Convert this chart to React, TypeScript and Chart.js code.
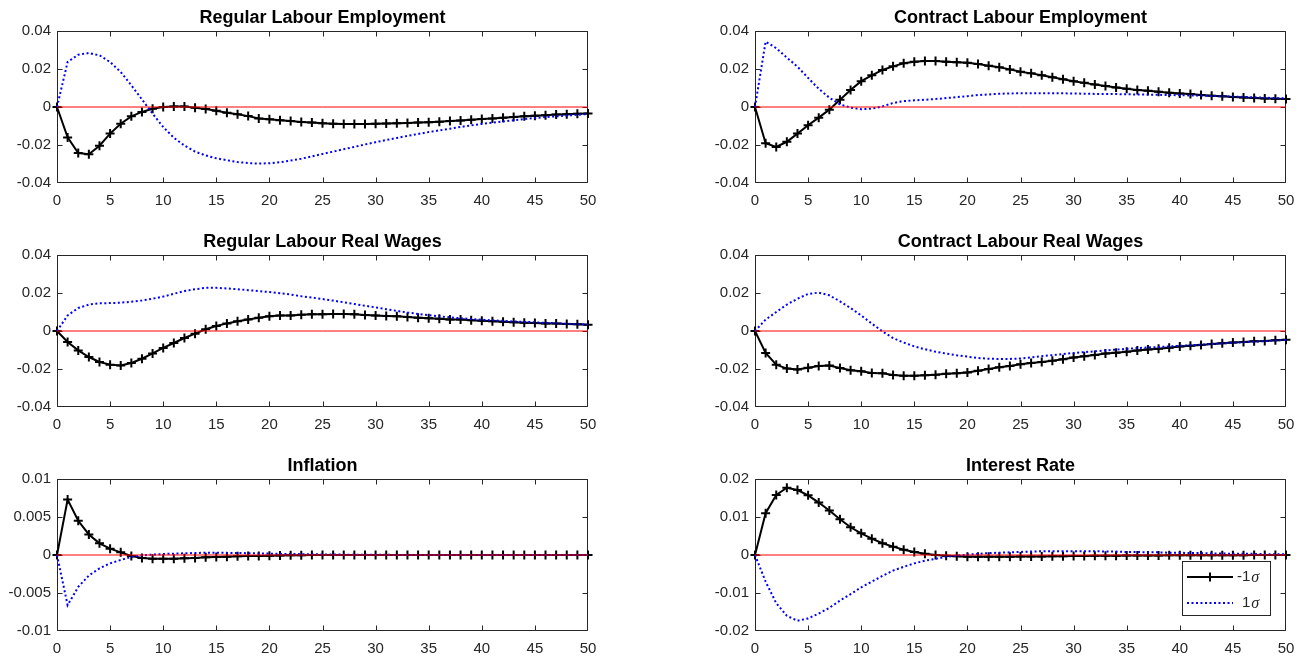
import React, { useEffect, useRef } from "react";
import { Chart, registerables } from "chart.js";

Chart.register(...registerables);

// ---------- data ----------
const periods = [
  0, 1, 2, 3, 4, 5, 6, 7, 8, 9, 10, 11, 12, 13, 14, 15, 16, 17, 18, 19, 20, 21, 22, 23, 24, 25,
  26, 27, 28, 29, 30, 31, 32, 33, 34, 35, 36, 37, 38, 39, 40, 41, 42, 43, 44, 45, 46, 47, 48, 49, 50,
];
const xTicks = [0, 5, 10, 15, 20, 25, 30, 35, 40, 45, 50];
const zeroLineX = [0, 50];
const zeroLineY = [0, 0];

const titles = [
  "Regular Labour Employment",
  "Contract Labour Employment",
  "Regular Labour Real Wages",
  "Contract Labour Real Wages",
  "Inflation",
  "Interest Rate",
];
const legendLabels = ["-1", "1"]; // followed by italic sigma
const sigma = "σ";

const yTicksWide = [-0.04, -0.02, 0, 0.02, 0.04];
const yTicksInflation = [-0.01, -0.005, 0, 0.005, 0.01];
const yTicksRate = [-0.02, -0.01, 0, 0.01, 0.02];

const regEmpNeg = [
  0, -0.016, -0.0242, -0.0249, -0.0204, -0.014, -0.0088, -0.0049, -0.0026, -0.0009,
  0, 0.0003, 0.0003, -0.0004, -0.001, -0.002, -0.003, -0.0038, -0.0048, -0.006,
  -0.0065, -0.007, -0.0074, -0.0079, -0.0082, -0.0086, -0.0088, -0.009, -0.009, -0.0089,
  -0.0088, -0.0087, -0.0086, -0.0084, -0.0082, -0.008, -0.0077, -0.0074, -0.0071, -0.0067,
  -0.0063, -0.006, -0.0056, -0.0052, -0.0049, -0.0046, -0.0043, -0.004, -0.0038, -0.0036, -0.0034,
];
const regEmpPos = [
  0, 0.0237, 0.0275, 0.0284, 0.0272, 0.0237, 0.0184, 0.0114, 0.004, -0.0035,
  -0.0105, -0.0162, -0.0203, -0.0235, -0.0255, -0.027, -0.028, -0.029, -0.0295, -0.0298,
  -0.0296, -0.0291, -0.0282, -0.0272, -0.026, -0.0247, -0.0235, -0.0222, -0.021, -0.0197,
  -0.0185, -0.0174, -0.0163, -0.0152, -0.0142, -0.0132, -0.0123, -0.0114, -0.0105, -0.0097,
  -0.0089, -0.0082, -0.0076, -0.007, -0.0064, -0.0058, -0.0053, -0.0049, -0.0045, -0.0041, -0.0037,
];
const conEmpNeg = [
  0, -0.0191, -0.021, -0.0183, -0.014, -0.0096, -0.0056, -0.0014, 0.0038, 0.009,
  0.0136, 0.0167, 0.0195, 0.0214, 0.023, 0.0238, 0.0242, 0.0242, 0.0238, 0.0235,
  0.0233, 0.0226, 0.0217, 0.0209, 0.0198, 0.0186, 0.0177, 0.0167, 0.0157, 0.0146,
  0.0136, 0.0127, 0.0118, 0.011, 0.0103, 0.0096, 0.009, 0.0085, 0.008, 0.0075,
  0.0071, 0.0068, 0.0063, 0.0059, 0.0056, 0.0052, 0.005, 0.0047, 0.0045, 0.0043, 0.0042,
];
const conEmpPos = [
  0, 0.0344, 0.031, 0.026, 0.0212, 0.0153, 0.0096, 0.0049, 0.0014, -0.0003,
  -0.0012, -0.0009, 0.0003, 0.0021, 0.0031, 0.0035, 0.0038, 0.0042, 0.0047, 0.0052,
  0.0057, 0.0063, 0.0066, 0.007, 0.0071, 0.0073, 0.0073, 0.0073, 0.0072, 0.0072,
  0.0071, 0.007, 0.0069, 0.0068, 0.0068, 0.0067, 0.0066, 0.0065, 0.0064, 0.0063,
  0.0062, 0.0061, 0.006, 0.0058, 0.0057, 0.0055, 0.0053, 0.0051, 0.0049, 0.0047, 0.0045,
];
const regWageNeg = [
  0, -0.0058, -0.0102, -0.0137, -0.0163, -0.0177, -0.0181, -0.0168, -0.0146, -0.0118,
  -0.0089, -0.0063, -0.0037, -0.0014, 0.0009, 0.0026, 0.004, 0.0051, 0.0061, 0.007,
  0.0077, 0.0081, 0.0082, 0.0086, 0.0088, 0.0088, 0.0089, 0.0089, 0.0088, 0.0084,
  0.0082, 0.0079, 0.0077, 0.0074, 0.007, 0.0067, 0.0065, 0.0061, 0.006, 0.0056,
  0.0054, 0.0051, 0.0049, 0.0046, 0.0044, 0.0042, 0.004, 0.0039, 0.0037, 0.0035, 0.0033,
];
const regWagePos = [
  0, 0.0082, 0.0121, 0.0139, 0.0146, 0.0147, 0.0149, 0.0154, 0.0161, 0.017,
  0.0181, 0.0196, 0.021, 0.022, 0.0227, 0.0227, 0.0224, 0.022, 0.0215, 0.021,
  0.0205, 0.0199, 0.0192, 0.0183, 0.0176, 0.0168, 0.016, 0.0151, 0.0142, 0.0133,
  0.0124, 0.0115, 0.0106, 0.0097, 0.009, 0.0083, 0.0077, 0.0072, 0.0067, 0.0063,
  0.0059, 0.0056, 0.0053, 0.005, 0.0048, 0.0046, 0.0043, 0.0041, 0.0038, 0.0036, 0.0034,
];
const conWageNeg = [
  0, -0.0116, -0.0177, -0.0198, -0.0202, -0.0193, -0.0184, -0.0182, -0.0195, -0.0207,
  -0.0212, -0.0221, -0.0223, -0.0232, -0.0235, -0.0235, -0.0233, -0.023, -0.0225, -0.0223,
  -0.0218, -0.0209, -0.02, -0.0191, -0.0184, -0.0175, -0.0168, -0.0163, -0.0156, -0.0149,
  -0.014, -0.0133, -0.0126, -0.0119, -0.0114, -0.0109, -0.0103, -0.0098, -0.0093, -0.0088,
  -0.0082, -0.0077, -0.0074, -0.0068, -0.0065, -0.0061, -0.0058, -0.0054, -0.0053, -0.0049, -0.0046,
];
const conWagePos = [
  0, 0.006, 0.01, 0.0139, 0.017, 0.0195, 0.0202, 0.0188, 0.0156, 0.0121,
  0.0082, 0.0039, -0.0002, -0.0037, -0.0061, -0.0081, -0.0096, -0.0109, -0.0119, -0.0128,
  -0.0135, -0.0142, -0.0146, -0.0147, -0.0147, -0.0145, -0.0139, -0.0133, -0.0127, -0.0121,
  -0.0116, -0.0111, -0.0107, -0.0102, -0.0098, -0.0094, -0.009, -0.0087, -0.0084, -0.0081,
  -0.0078, -0.0075, -0.0072, -0.0068, -0.0065, -0.0062, -0.0059, -0.0056, -0.0053, -0.005, -0.0047,
];
const inflNeg = [
  0, 0.0073, 0.0045, 0.0027, 0.00154, 0.00083, 0.00035, -0.00013, -0.0004, -0.00048,
  -0.00048, -0.00048, -0.00044, -0.0004, -0.0003, -0.00026, -0.00022, -0.00018, -0.00013, -0.00013,
  -0.00009, -0.00006, -0.00004, -0.00002, 0, 0, 0.00001, 0.00001, 0.00001, 0.00001,
  0.00001, 0.00001, 0.00001, 0.00001, 0.00001, 0.00001, 0.00001, 0.00001, 0.00001, 0.00001,
  0.00001, 0.00001, 0.00001, 0, 0, 0, 0, 0, 0, 0, 0,
];
const inflPos = [
  0, -0.0066, -0.0042, -0.0027, -0.00175, -0.0011, -0.00066, -0.00026, -0.00004, 0.00004,
  0.00013, 0.00018, 0.00022, 0.00026, 0.0003, 0.0003, 0.00028, 0.00026, 0.00024, 0.00021,
  0.00018, 0.00015, 0.00013, 0.00011, 0.00009, 0.00008, 0.00006, 0.00005, 0.00004, 0.00003,
  0.00002, 0.00002, 0.00001, 0.00001, 0.00001, 0.00001, 0.00001, 0, 0, 0,
  0, 0, 0, 0, 0, 0, 0, 0, 0, 0, 0,
];
const rateNeg = [
  0, 0.011, 0.0158, 0.0177, 0.0171, 0.0157, 0.0138, 0.0117, 0.0094, 0.0073,
  0.0057, 0.0043, 0.0031, 0.0022, 0.0014, 0.0008, 0.00035, 0, -0.00018, -0.00035,
  -0.00044, -0.00044, -0.00045, -0.00045, -0.00044, -0.00042, -0.0004, -0.00038, -0.00035, -0.00032,
  -0.00029, -0.00026, -0.00023, -0.0002, -0.00018, -0.00016, -0.00014, -0.00012, -0.0001, -0.00009,
  -0.00008, -0.00007, -0.00006, -0.00005, -0.00005, -0.00004, -0.00004, -0.00003, -0.00003, -0.00002, -0.00002,
];
const ratePos = [
  0, -0.007, -0.0127, -0.016, -0.0173, -0.0167, -0.0154, -0.0139, -0.012, -0.0103,
  -0.0085, -0.007, -0.0055, -0.0041, -0.0031, -0.0022, -0.0015, -0.001, -0.0005, -0.00018,
  0.0001, 0.0003, 0.0005, 0.0006, 0.0007, 0.0008, 0.0009, 0.001, 0.001, 0.001,
  0.001, 0.001, 0.001, 0.0009, 0.0009, 0.0008, 0.0008, 0.0007, 0.0007, 0.0006,
  0.0006, 0.0005, 0.0005, 0.0004, 0.0004, 0.0003, 0.0003, 0.0003, 0.0002, 0.0002, 0.0002,
];

// ---------- layout / style ----------
const FONT = '"Liberation Sans", Arial, Helvetica, sans-serif';
const AXIS_COLOR = "#262626";
const PLOT_LEFT = [57, 755];
const PLOT_TOP = [31, 255, 479];
const PLOT_W = 531;
const PLOT_H = 152;
const Y_AXIS_W = 55;
const X_AXIS_H = 26;
const TITLE_AREA = 31;
const RIGHT_PAD = 25;
const TITLE_SIZE = 18;
const TITLE_PAD_BOTTOM = 2;
const TICK_SIZE = 15;
const TICK_LEN = 5;

type Panel = {
  title: string;
  neg: number[];
  pos: number[];
  yTicks: number[];
  row: number;
  col: number;
  legend?: boolean;
};

const panels: Panel[] = [
  { title: titles[0], neg: regEmpNeg, pos: regEmpPos, yTicks: yTicksWide, row: 0, col: 0 },
  { title: titles[1], neg: conEmpNeg, pos: conEmpPos, yTicks: yTicksWide, row: 0, col: 1 },
  { title: titles[2], neg: regWageNeg, pos: regWagePos, yTicks: yTicksWide, row: 1, col: 0 },
  { title: titles[3], neg: conWageNeg, pos: conWagePos, yTicks: yTicksWide, row: 1, col: 1 },
  { title: titles[4], neg: inflNeg, pos: inflPos, yTicks: yTicksInflation, row: 2, col: 0 },
  { title: titles[5], neg: rateNeg, pos: ratePos, yTicks: yTicksRate, row: 2, col: 1, legend: true },
];

const fmt = (v: number) => {
  const n = parseFloat(Number(v).toFixed(6));
  return (Object.is(n, -0) ? 0 : n).toString();
};

const clamp = (v: number, lo: number, hi: number) => Math.min(hi, Math.max(lo, v));

const boxPlugin = {
  id: "matlabBox",
  beforeDatasetsDraw(chart: any) {
    const { ctx, chartArea: a, scales } = chart;
    const L = Math.round(a.left) + 0.5;
    const R = Math.round(a.right) - 0.5;
    const T = Math.round(a.top) + 0.5;
    const B = Math.round(a.bottom) - 0.5;
    ctx.save();
    ctx.strokeStyle = AXIS_COLOR;
    ctx.lineWidth = 1;
    ctx.beginPath();
    ctx.rect(L, T, R - L, B - T);
    ctx.stroke();
    ctx.beginPath();
    scales.x.ticks.forEach((t: any) => {
      const px = clamp(Math.round(scales.x.getPixelForValue(t.value)) + 0.5, L, R);
      ctx.moveTo(px, B);
      ctx.lineTo(px, B - TICK_LEN);
      ctx.moveTo(px, T);
      ctx.lineTo(px, T + TICK_LEN);
    });
    scales.y.ticks.forEach((t: any) => {
      const py = clamp(Math.round(scales.y.getPixelForValue(t.value)) + 0.5, T, B);
      ctx.moveTo(L, py);
      ctx.lineTo(L + TICK_LEN, py);
      ctx.moveTo(R, py);
      ctx.lineTo(R - TICK_LEN, py);
    });
    ctx.stroke();
    ctx.restore();
  },
};

const legendPlugin = {
  id: "sigmaLegend",
  afterDatasetsDraw(chart: any) {
    const show = chart.options.plugins?.sigmaLegend?.show;
    if (!show) return;
    const { ctx, chartArea: a } = chart;
    const w = 89;
    const h = 55;
    const right = Math.round(a.right) - 15;
    const bottom = Math.round(a.bottom) - 15;
    const left = right - w;
    const top = bottom - h;
    ctx.save();
    ctx.fillStyle = "#ffffff";
    ctx.fillRect(left, top, w, h);
    ctx.strokeStyle = AXIS_COLOR;
    ctx.lineWidth = 1;
    ctx.strokeRect(left + 0.5, top + 0.5, w - 1, h - 1);

    const rows = [top + 16, top + 42];
    ctx.strokeStyle = "#000000";
    ctx.lineWidth = 2;
    ctx.beginPath();
    ctx.moveTo(left + 5, rows[0]);
    ctx.lineTo(left + 51, rows[0]);
    ctx.moveTo(left + 28, rows[0] - 4.5);
    ctx.lineTo(left + 28, rows[0] + 4.5);
    ctx.stroke();
    ctx.strokeStyle = "#0000ff";
    ctx.setLineDash([2, 2.5]);
    ctx.beginPath();
    ctx.moveTo(left + 5, rows[1]);
    ctx.lineTo(left + 51, rows[1]);
    ctx.stroke();
    ctx.setLineDash([]);

    ctx.fillStyle = AXIS_COLOR;
    ctx.textBaseline = "middle";
    ctx.textAlign = "left";
    const normalFont = `${TICK_SIZE}px ${FONT}`;
    const sigmaFont = `italic ${TICK_SIZE + 1}px "Liberation Serif", "DejaVu Serif", serif`;
    ctx.font = normalFont;
    const dashW = ctx.measureText("-").width;
    const starts = [left + 55, left + 55 + dashW];
    legendLabels.forEach((lab, i) => {
      ctx.font = normalFont;
      ctx.fillText(lab, starts[i], rows[i]);
      const lw = ctx.measureText(lab).width;
      ctx.font = sigmaFont;
      ctx.fillText(sigma, starts[i] + lw + 1, rows[i] + 1);
    });
    ctx.restore();
  },
};

function PanelChart({ panel }: { panel: Panel }) {
  const ref = useRef<HTMLCanvasElement>(null);
  const W = Y_AXIS_W + PLOT_W + RIGHT_PAD;
  const H = TITLE_AREA + PLOT_H + X_AXIS_H;
  const left = PLOT_LEFT[panel.col] - Y_AXIS_W;
  const top = PLOT_TOP[panel.row] - TITLE_AREA;

  useEffect(() => {
    const titleBox = TITLE_SIZE * 1.2 + TITLE_PAD_BOTTOM;
    const yMin = panel.yTicks[0];
    const yMax = panel.yTicks[panel.yTicks.length - 1];
    const tickFont = { family: FONT, size: TICK_SIZE };
    const chart = new Chart(ref.current as HTMLCanvasElement, {
      type: "line",
      data: {
        datasets: [
          {
            label: "zero",
            data: zeroLineX.map((x, i) => ({ x, y: zeroLineY[i] })),
            borderColor: "#ff0000",
            borderWidth: 1,
            pointRadius: 0,
            order: 0,
            clip: false,
          },
          {
            label: "1σ",
            data: periods.map((x, i) => ({ x, y: panel.pos[i] })),
            borderColor: "#0000ff",
            borderWidth: 2,
            borderDash: [2, 2.5],
            borderCapStyle: "butt",
            pointRadius: 0,
            tension: 0,
            order: 1,
            clip: false,
          },
          {
            label: "-1σ",
            data: periods.map((x, i) => ({ x, y: panel.neg[i] })),
            borderColor: "#000000",
            borderWidth: 2,
            pointStyle: "cross",
            pointRadius: 4.5,
            pointBorderWidth: 2,
            pointBorderColor: "#000000",
            pointBackgroundColor: "#000000",
            tension: 0,
            order: 2,
            clip: false,
          },
        ],
      },
      options: {
        responsive: false,
        animation: false,
        devicePixelRatio: 1,
        events: [],
        layout: {
          padding: { left: 0, right: RIGHT_PAD, top: TITLE_AREA - titleBox, bottom: 0 },
        },
        plugins: {
          legend: { display: false },
          tooltip: { enabled: false },
          title: {
            display: true,
            fullSize: false,
            text: panel.title,
            color: "#000000",
            font: { family: FONT, size: TITLE_SIZE, weight: "bold", lineHeight: 1.2 },
            padding: { top: 0, bottom: TITLE_PAD_BOTTOM },
          },
          sigmaLegend: { show: !!panel.legend },
        } as any,
        scales: {
          x: {
            type: "linear",
            min: 0,
            max: 50,
            afterBuildTicks: (s: any) => {
              s.ticks = xTicks.map((v) => ({ value: v }));
            },
            afterFit: (s: any) => {
              s.height = X_AXIS_H;
              s.paddingLeft = 0;
              s.paddingRight = 0;
            },
            grid: { display: false, drawTicks: false },
            border: { display: false },
            ticks: {
              padding: 9,
              color: AXIS_COLOR,
              font: tickFont,
              maxRotation: 0,
              autoSkip: false,
              callback: (v: any) => fmt(v),
            },
          },
          y: {
            type: "linear",
            min: yMin,
            max: yMax,
            afterBuildTicks: (s: any) => {
              s.ticks = panel.yTicks.map((v) => ({ value: v }));
            },
            afterFit: (s: any) => {
              s.width = Y_AXIS_W;
              s.paddingTop = 0;
              s.paddingBottom = 0;
            },
            grid: { display: false, drawTicks: false },
            border: { display: false },
            ticks: {
              padding: 6,
              color: AXIS_COLOR,
              font: tickFont,
              autoSkip: false,
              callback: (v: any) => fmt(v),
            },
          },
        },
      } as any,
      plugins: [boxPlugin, legendPlugin],
    });
    return () => chart.destroy();
  }, []);

  return (
    <canvas
      ref={ref}
      width={W}
      height={H}
      style={{ position: "absolute", left, top, width: W, height: H }}
    />
  );
}

export default function App() {
  return (
    <div
      style={{
        position: "absolute",
        left: 0,
        top: 0,
        width: 1310,
        height: 657,
        background: "#ffffff",
        overflow: "hidden",
      }}
    >
      {panels.map((p, i) => (
        <PanelChart key={i} panel={p} />
      ))}
    </div>
  );
}
